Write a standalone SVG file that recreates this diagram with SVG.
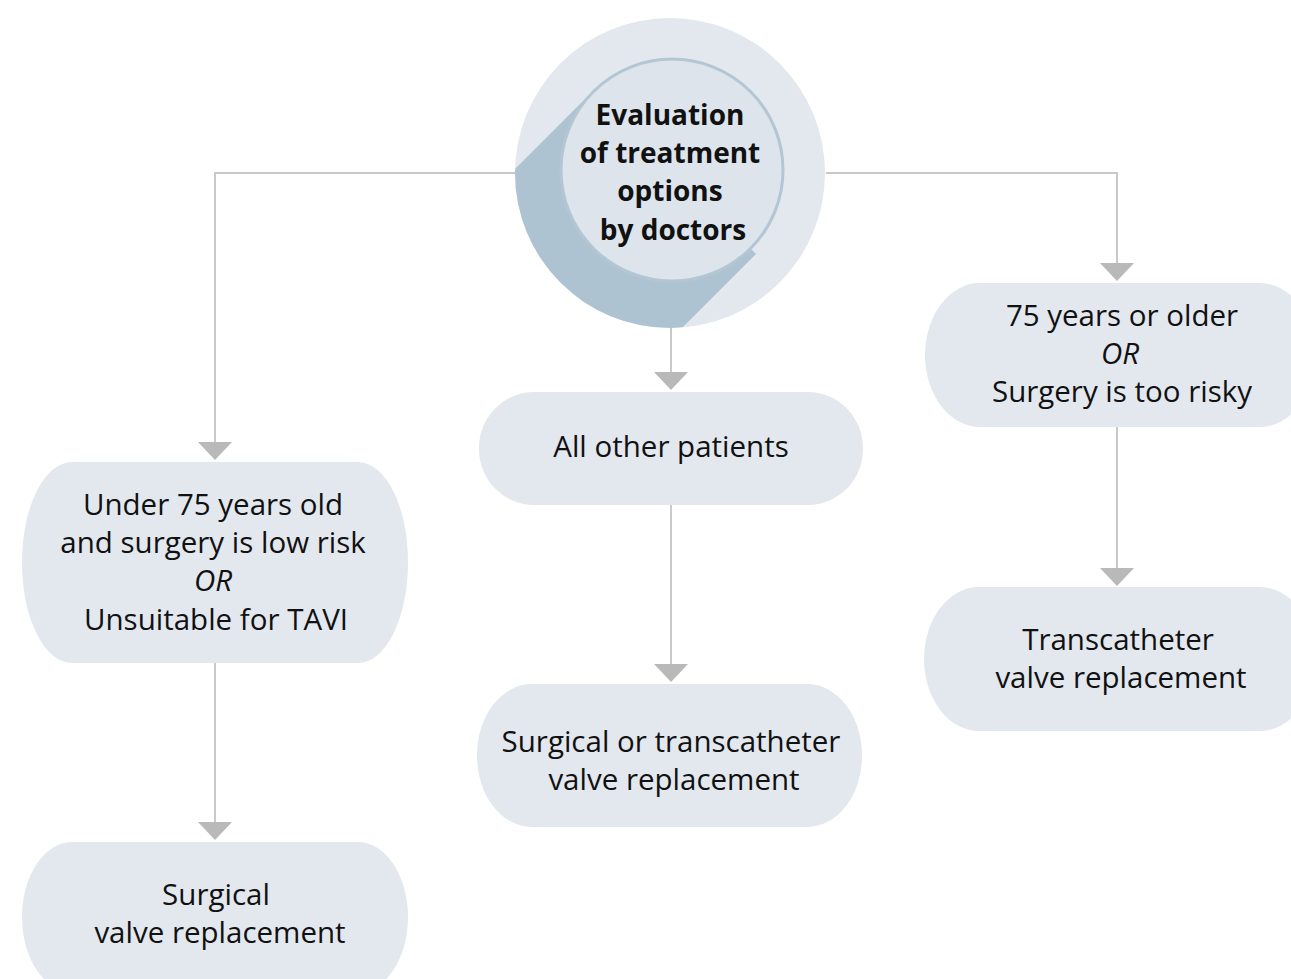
<svg xmlns="http://www.w3.org/2000/svg" width="1291" height="979" viewBox="0 0 1291 979">
<style>
.node{fill:#e3e8ef;}
.t{font-family:"Open Sans","Liberation Sans",sans-serif;font-size:29.5px;fill:#111;text-anchor:middle;}
.i{font-style:italic;}
.b{font-family:"Open Sans","Liberation Sans",sans-serif;font-size:28px;font-weight:bold;fill:#111;text-anchor:middle;}
.ln{stroke:#c9c9c9;stroke-width:2;fill:none;}
.ah{fill:#b9b9b9;}
</style>
<defs>
<clipPath id="outerClip"><circle cx="670" cy="173" r="155"/></clipPath>
</defs>
<rect width="1291" height="979" fill="#ffffff"/>
<g id="connectors">
<polyline class="ln" points="515,173 215,173 215,444"/>
<polygon class="ah" points="198,442 232,442 215,460"/>
<polyline class="ln" points="826,173 1117,173 1117,265"/>
<polygon class="ah" points="1100,263 1134,263 1117,281"/>
<line class="ln" x1="671" y1="328" x2="671" y2="374"/>
<polygon class="ah" points="654,372 688,372 671,390"/>
<line class="ln" x1="671" y1="505" x2="671" y2="666"/>
<polygon class="ah" points="654,664 688,664 671,682"/>
<line class="ln" x1="215" y1="663" x2="215" y2="824"/>
<polygon class="ah" points="198,822 232,822 215,840"/>
<line class="ln" x1="1117" y1="427" x2="1117" y2="570"/>
<polygon class="ah" points="1100,568 1134,568 1117,586"/>
</g>
<g id="start">
<circle cx="670" cy="173" r="155" fill="#e3e8ef"/>
<polygon points="593,91 393,291 556,454 756,254" fill="#aec3d1" clip-path="url(#outerClip)"/>
<circle cx="672" cy="170" r="111" fill="#dde4eb" stroke="#b3c6d3" stroke-width="3"/>
<text class="b" x="670" y="125">Evaluation</text>
<text class="b" x="670" y="163">of treatment</text>
<text class="b" x="670" y="201">options</text>
<text class="b" x="673" y="240">by doctors</text>
</g>
<g id="n-left">
<rect class="node" x="22" y="462" width="386" height="201" rx="50" ry="100"/>
<text class="t" x="213" y="515">Under 75 years old</text>
<text class="t" x="213" y="553">and surgery is low risk</text>
<text class="t i" x="213" y="591">OR</text>
<text class="t" x="216" y="630">Unsuitable for TAVI</text>
</g>
<g id="n-surgical">
<rect class="node" x="22" y="842" width="386" height="150" rx="50" ry="75"/>
<text class="t" x="216" y="905">Surgical</text>
<text class="t" x="220" y="943">valve replacement</text>
</g>
<g id="n-other">
<rect class="node" x="479" y="392" width="384" height="113" rx="55" ry="56"/>
<text class="t" x="671" y="457">All other patients</text>
</g>
<g id="n-either">
<rect class="node" x="477" y="684" width="385" height="143" rx="55" ry="71"/>
<text class="t" x="671" y="752">Surgical or transcatheter</text>
<text class="t" x="674" y="790">valve replacement</text>
</g>
<g id="n-right">
<rect class="node" x="925" y="283" width="390" height="144" rx="55" ry="72"/>
<text class="t" x="1122" y="326">75 years or older</text>
<text class="t i" x="1120" y="364">OR</text>
<text class="t" x="1122" y="402">Surgery is too risky</text>
</g>
<g id="n-trans">
<rect class="node" x="924" y="587" width="391" height="144" rx="55" ry="72"/>
<text class="t" x="1118" y="650">Transcatheter</text>
<text class="t" x="1121" y="688">valve replacement</text>
</g>
</svg>
